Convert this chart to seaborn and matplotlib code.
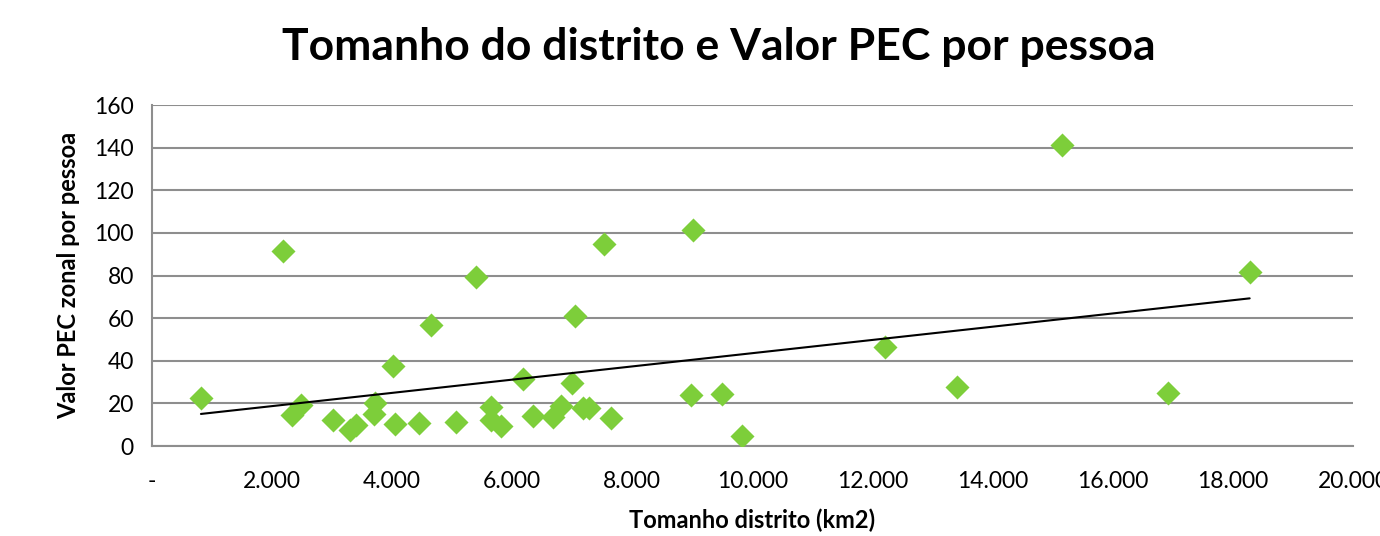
import pandas as pd
import matplotlib.pyplot as plt
import seaborn as sns
from matplotlib.ticker import FuncFormatter

# district area (km2) and zonal PEC value per person
area = [816, 2180, 2340, 2480, 3020, 3290, 3400, 3690, 3720, 4010,
        4050, 4440, 4640, 5070, 5400, 5640, 5640, 5810, 6180, 6340,
        6680, 6820, 6990, 7040, 7180, 7280, 7530, 7640, 8970, 9010,
        9500, 9830, 12200, 13400, 15150, 16920, 18280]
pec = [22.5, 91.5, 14.5, 19.2, 12.2, 7.5, 9.9, 15.0, 20.3, 37.5,
       10.3, 10.6, 56.9, 11.1, 79.3, 18.2, 12.2, 9.5, 31.4, 14.1,
       13.8, 18.9, 29.7, 61.0, 17.7, 18.0, 94.8, 13.0, 23.9, 101.4,
       24.4, 4.8, 46.5, 27.5, 141.3, 25.0, 81.7]

x_ticks = list(range(0, 20001, 2000))
y_ticks = list(range(0, 161, 20))

sns.set_style('white')
plt.rcParams['font.family'] = ['Lato', 'DejaVu Sans']
plt.rcParams['text.color'] = 'black'
plt.rcParams['axes.labelcolor'] = 'black'
plt.rcParams['xtick.color'] = 'black'
plt.rcParams['ytick.color'] = 'black'

df = pd.DataFrame({'area': area, 'pec': pec})

fig = plt.figure(figsize=(13.8, 5.36), dpi=100)
ax = fig.add_axes([0.1101, 0.1679, 0.8703, 0.6362])

sns.regplot(data=df, x='area', y='pec', ax=ax, ci=None, marker='D',
            scatter_kws=dict(s=150, color='#7dce3a', linewidths=0, alpha=1, zorder=3),
            line_kws=dict(color='black', lw=1.5, zorder=4))

ax.set_xlim(0, 20000)
ax.set_ylim(0, 160)
ax.set_xticks(x_ticks)
ax.set_yticks(y_ticks)
ax.xaxis.set_major_formatter(FuncFormatter(
    lambda v, p: '-' if v == 0 else f'{int(v):,}'.replace(',', '.')))

ax.yaxis.grid(True, color='#8e8e8e', lw=1.5)
ax.set_axisbelow(True)
for side in ['top', 'right']:
    ax.spines[side].set_visible(False)
for side in ['left', 'bottom']:
    ax.spines[side].set_color('#8e8e8e')
    ax.spines[side].set_linewidth(1.5)
ax.tick_params(axis='both', which='major', direction='out', length=6, width=1.5,
               color='#8e8e8e', labelsize=16.5, pad=7)
ax.tick_params(axis='x', pad=12)
for lbl in ax.get_xticklabels():
    lbl.set_clip_on(False)

ax.set_xlabel('Tomanho distrito (km2)', fontsize=17, fontweight='bold', labelpad=12)
ax.set_ylabel('Valor PEC zonal por pessoa', fontsize=17, fontweight='bold', labelpad=10)

fig.text(0.521, 0.913, 'Tomanho do distrito e Valor PEC por pessoa',
         ha='center', va='center', fontsize=32, fontweight='bold')

fig.savefig('out.png', dpi=100)
